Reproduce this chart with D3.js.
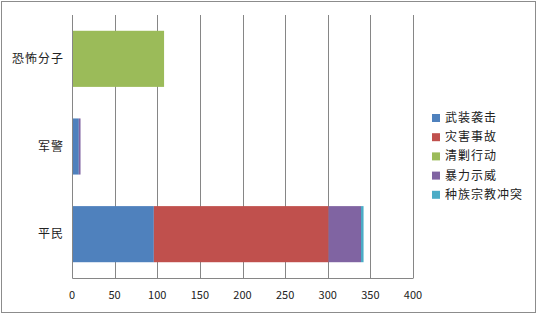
<!DOCTYPE html>
<html>
<head>
<meta charset="utf-8">
<script src="https://cdn.jsdelivr.net/npm/d3@7"></script>
<style>
  body { margin: 0; background: #fff; }
  text { font-family: "Noto Sans CJK SC", "DejaVu Sans", sans-serif; }
</style>
</head>
<body>
<div id="chart"></div>
<script>
// data
var categories = ['恐怖分子', '军警', '平民'];
var seriesNames = ['武装袭击', '灾害事故', '清剿行动', '暴力示威', '种族宗教冲突'];
var colors = ['#4F81BD', '#C0504D', '#9BBB59', '#8064A2', '#4BACC6'];
// one array per series, in category order
var armed   = [0, 8, 96];
var disaster = [0, 0, 205];
var sweep   = [108, 0, 0];
var protest = [0, 2, 38];
var ethnic  = [0, 0, 3];
var xTicks = [0, 50, 100, 150, 200, 250, 300, 350, 400];

var WIDTH = 538, HEIGHT = 315;
var margin = {left: 72, right: 125, top: 15, bottom: 37};

var svg = d3.select('#chart').append('svg')
    .attr('width', WIDTH)
    .attr('height', HEIGHT);

svg.append('rect')
    .attr('x', 1.5).attr('y', 1.5)
    .attr('width', WIDTH - 4).attr('height', HEIGHT - 4)
    .attr('fill', '#fff')
    .attr('stroke', '#8c8c8c');

var x = d3.scaleLinear().domain([0, 400]).range([margin.left, WIDTH - margin.right]);
var y = d3.scaleBand().domain(categories)
    .range([margin.top, HEIGHT - margin.bottom])
    .paddingInner(0.36).paddingOuter(0.18);

// gridlines
svg.append('g').selectAll('line')
    .data(xTicks).enter().append('line')
    .attr('x1', function(d){ return Math.round(x(d)) + 0.5; })
    .attr('x2', function(d){ return Math.round(x(d)) + 0.5; })
    .attr('y1', margin.top)
    .attr('y2', HEIGHT - margin.bottom)
    .attr('stroke', '#868686');

var table = categories.map(function(c, i){
    return {cat: c, s0: armed[i], s1: disaster[i], s2: sweep[i], s3: protest[i], s4: ethnic[i]};
});
var stack = d3.stack().keys(['s0', 's1', 's2', 's3', 's4'])(table);

svg.append('g').selectAll('g')
    .data(stack).enter().append('g')
    .attr('fill', function(d, i){ return colors[i]; })
    .selectAll('rect')
    .data(function(d){ return d; }).enter().append('rect')
    .attr('x', function(d){ return x(d[0]); })
    .attr('y', function(d){ return y(d.data.cat); })
    .attr('width', function(d){ return x(d[1]) - x(d[0]); })
    .attr('height', y.bandwidth());

// axes lines
var bottomY = HEIGHT - margin.bottom + 0.5;
svg.append('line')
    .attr('x1', margin.left + 0.5).attr('x2', x(400) + 0.5)
    .attr('y1', bottomY).attr('y2', bottomY)
    .attr('stroke', '#868686');
svg.append('line')
    .attr('x1', margin.left + 0.5).attr('x2', margin.left + 0.5)
    .attr('y1', margin.top).attr('y2', bottomY)
    .attr('stroke', '#868686');

svg.append('g').selectAll('text')
    .data(xTicks).enter().append('text')
    .attr('x', function(d){ return x(d); })
    .attr('y', 299)
    .attr('text-anchor', 'middle')
    .attr('font-size', 11)
    .attr('font-family', 'DejaVu Sans, sans-serif')
    .attr('fill', '#222')
    .text(function(d){ return d; });

svg.append('g').selectAll('text')
    .data(categories).enter().append('text')
    .attr('x', 64)
    .attr('y', function(d){ return y(d) + y.bandwidth() / 2 + 4; })
    .attr('text-anchor', 'end')
    .attr('font-size', 12)
    .attr('letter-spacing', 1)
    .attr('fill', '#222')
    .text(function(d){ return d; });

// legend
var legend = svg.append('g').selectAll('g')
    .data(seriesNames).enter().append('g')
    .attr('transform', function(d, i){ return 'translate(432,' + (118 + i * 19.2) + ')'; });
legend.append('rect')
    .attr('x', 0).attr('y', -4)
    .attr('width', 8).attr('height', 8)
    .attr('fill', function(d, i){ return colors[i]; });
legend.append('text')
    .attr('x', 13).attr('y', 4)
    .attr('font-size', 12)
    .attr('letter-spacing', 1)
    .attr('fill', '#222')
    .text(function(d){ return d; });
</script>
</body>
</html>
